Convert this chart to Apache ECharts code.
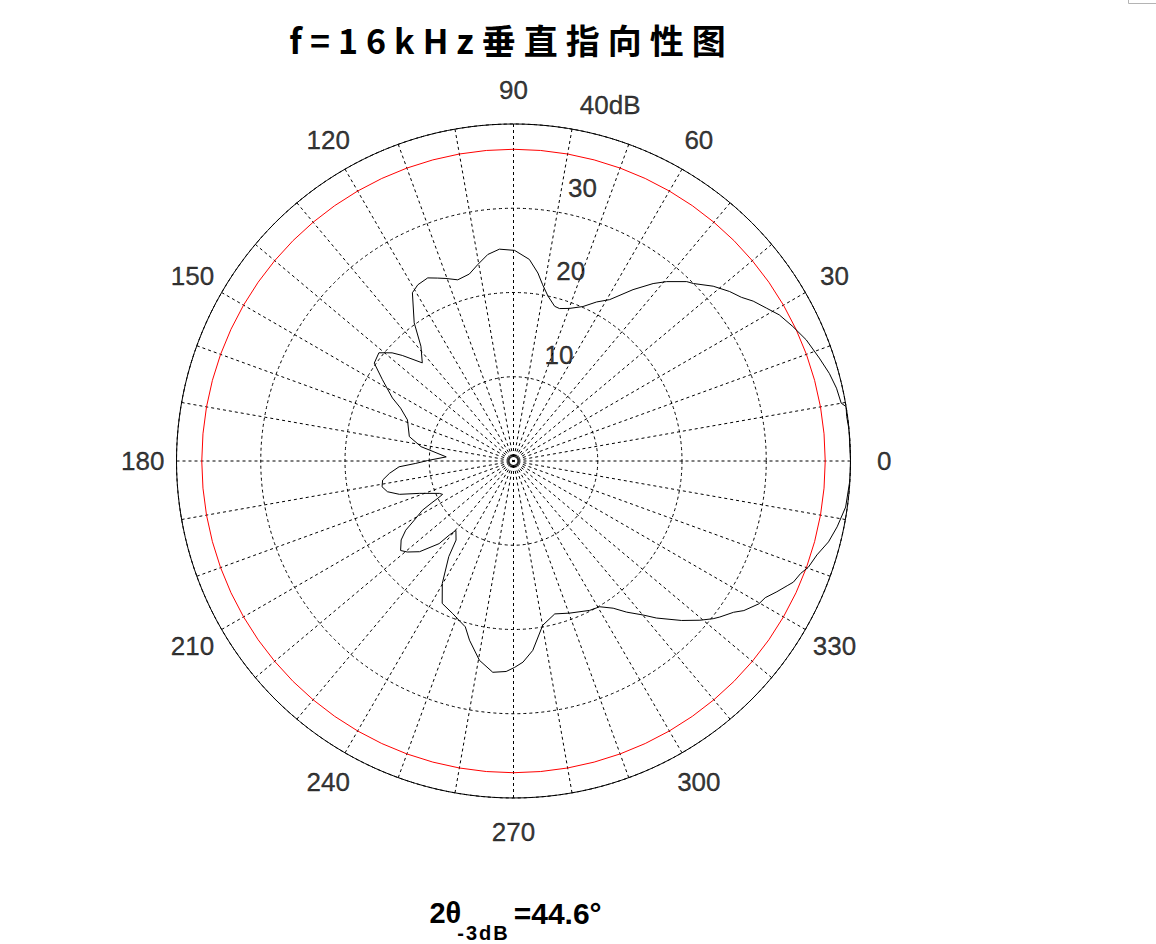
<!DOCTYPE html>
<html>
<head>
<meta charset="utf-8">
<script src="https://cdn.jsdelivr.net/npm/echarts@6/dist/echarts.min.js"></script>
<style>
html, body { margin: 0; padding: 0; background: #fff; }
#main { width: 1156px; height: 944px; }
#main text[style*="CJK"] { letter-spacing: 8px; }
#main text[style*="Arimo"] { letter-spacing: 2px; }
</style>
</head>
<body>
<div id="main"></div>
<script>
// ---- data ----
const titleText = 'f=16kHz垂直指向性图';
const beamWidthText = '{m|2θ}{s|-3dB}{e|=44.6°}';

// measured directivity curve: angle (deg) and level (dB)
const curveAngles = [
  0.2, 5.3, 7.6, 9.3, 10.0, 12.7, 15.5, 18.6, 22.5, 25.7, 28.8, 31.1, 33.7, 35.7, 38.1, 41.2,
  44.6, 46.0, 49.5, 51.8, 55.1, 59.2, 62.4, 65.8, 69.8, 73.2, 75.1, 78.2, 80.6, 82.6, 85.5, 89.7,
  93.8, 97.1, 100.3, 103.3, 107.1, 110.3, 112.5, 115.1, 118.5, 121.0, 125.7, 128.9, 132.9, 136.5,
  138.3, 141.2, 144.9, 148.2, 152.5, 154.9, 158.8, 166.8, 171.2, 172.5, 176.5, 179.7, 181.4, 182.9,
  185.7, 188.3, 191.1, 193.7, 196.3, 199.0, 203.6, 205.2, 206.2, 207.2, 208.4, 210.8, 212.7, 215.1,
  218.4, 220.6, 224.0, 228.0, 229.1, 230.3, 234.0, 235.9, 239.8, 243.4, 248.3, 251.2, 253.8, 256.2,
  260.3, 264.4, 268.0, 270.3, 272.7, 275.8, 280.1, 285.1, 290.3, 297.0, 300.6, 304.1, 306.8, 310.1,
  312.3, 316.5, 319.5, 321.7, 322.9, 325.5, 327.0, 329.8, 331.5, 333.6, 335.5, 336.6, 338.6, 340.2,
  342.8, 345.6, 348.5, 352.1, 356.8, 360.0
];
const curveLevels = [
  40.0, 40.0, 39.9, 40.0, 39.5, 39.3, 38.9, 38.3, 37.6, 36.8, 36.0, 35.1, 34.2, 33.3, 32.6, 31.5,
  30.0, 29.6, 28.0, 26.8, 24.8, 22.3, 21.3, 20.1, 19.3, 18.9, 19.0, 20.0, 21.2, 22.5, 24.0, 25.0,
  25.2, 24.7, 23.7, 22.8, 22.5, 23.1, 23.5, 24.0, 23.8, 23.3, 20.2, 17.5, 15.9, 18.2,
  19.3, 20.5, 20.2, 18.3, 16.2, 14.8, 13.5, 12.7, 11.1, 10.1, 8.0, 10.2, 11.6, 13.6,
  14.8, 15.7, 15.9, 15.4, 14.1, 11.8, 9.6, 9.3, 10.0, 11.0, 12.3, 13.7, 15.2, 16.3,
  17.1, 16.6, 15.5, 13.2, 11.6, 10.7, 11.6, 13.7, 16.8, 18.9, 19.5, 20.0, 20.5, 21.9,
  24.0, 25.2, 25.0, 24.5, 23.9, 22.6, 19.8, 18.8, 19.25, 19.9, 20.1, 21.1, 22.4, 23.9,
  25.2, 27.5, 29.1, 30.2, 30.7, 31.7, 32.6, 33.7, 34.0, 34.9, 35.7, 36.2, 36.6, 37.2,
  37.7, 38.6, 39.2, 39.8, 40.0, 40.0
];

// -3 dB reference level (red circle)
const refLevel = 37;

// tick labels
const angleTickValues = [0, 30, 60, 90, 120, 150, 180, 210, 240, 270, 300, 330];
const angleTickLabels = ['0', '30', '60', '90', '120', '150', '180', '210', '240', '270', '300', '330'];
const ringTickValues = [10, 20, 30, 40];
const ringTickLabels = ['10', '20', '30', '40dB'];

// ---- layout constants ----
const angleLabelRadius = 44;     // in dB units, outside the 40 dB rim
const ringLabelAngle = 82;       // degrees
const ringLabelOffset = 2;       // dB added to the ring value for the label anchor

const refAngles = [];
for (let a = 0; a <= 360; a += 5) refAngles.push(a);

const chart = echarts.init(document.getElementById('main'), null, { renderer: 'svg' });

const dash = [3, 3];
const labelFont = {
  fontFamily: '"Liberation Sans", Arial, sans-serif', fontSize: 26, color: '#000',
  textBorderColor: '#000', textBorderWidth: 0.35
};

chart.setOption({
  animation: false,
  backgroundColor: '#fff',
  title: {
    text: titleText,
    left: 511.5,
    top: 21,
    textAlign: 'center',
    padding: 0,
    textStyle: {
      fontFamily: '"Noto Sans CJK SC", sans-serif',
      fontWeight: 'bold',
      fontSize: 34,
      lineHeight: 36,
      color: '#000'
    }
  },
  polar: { center: [513.5, 461], radius: 337 },
  angleAxis: {
    type: 'value', min: 0, max: 360, interval: 10,
    startAngle: 0, clockwise: false,
    axisLine: { show: true, lineStyle: { color: '#000', width: 1 } },
    axisTick: { show: false },
    axisLabel: { show: false },
    splitLine: { show: true, lineStyle: { color: '#000', width: 1, type: dash } }
  },
  radiusAxis: {
    type: 'value', min: 0, max: 40, interval: 10,
    axisLine: { show: false },
    axisTick: { show: false },
    axisLabel: { show: false },
    splitLine: { show: true, lineStyle: { color: '#000', width: 1, type: dash } }
  },
  series: [
    {
      name: '-3dB',
      type: 'line',
      coordinateSystem: 'polar',
      data: refAngles.map(a => [refLevel, a]),
      symbol: 'none',
      silent: true,
      clip: false,
      lineStyle: { color: '#ff0000', width: 1 },
      z: 3
    },
    {
      name: '指向性',
      type: 'line',
      coordinateSystem: 'polar',
      data: curveAngles.map((a, i) => [curveLevels[i], a]),
      symbol: 'none',
      silent: true,
      clip: false,
      lineStyle: { color: '#000', width: 1 },
      z: 4
    },
    {
      name: 'angleLabels',
      type: 'scatter',
      coordinateSystem: 'polar',
      data: angleTickValues.map((a, i) => ({ value: [angleLabelRadius, a], name: angleTickLabels[i] })),
      symbolSize: 0,
      clip: false,
      silent: true,
      label: {
        show: true, position: 'inside', formatter: p => p.name,
        ...labelFont
      },
      z: 5
    },
    {
      name: 'ringLabels',
      type: 'scatter',
      coordinateSystem: 'polar',
      data: ringTickValues.map((v, i) => ({ value: [v + ringLabelOffset, ringLabelAngle], name: ringTickLabels[i] })),
      symbolSize: 0,
      clip: false,
      silent: true,
      label: {
        show: true, position: 'right', distance: 17, offset: [0, -6], formatter: p => p.name,
        ...labelFont
      },
      z: 5
    }
  ],
  graphic: [
    {
      type: 'text',
      x: 515.5,
      y: 898,
      silent: true,
      style: {
        text: beamWidthText,
        align: 'center',
        verticalAlign: 'top',
        rich: {
          m: { fontFamily: '"Liberation Sans", Arial, sans-serif', fontWeight: 'bold', fontSize: 29, lineHeight: 30, verticalAlign: 'top', fill: '#000' },
          s: { fontFamily: 'Arimo, "Liberation Sans", Arial, sans-serif', fontWeight: 'bold', fontSize: 20, lineHeight: 20, padding: [25, 8, 0, 0], verticalAlign: 'top', fill: '#000' },
          e: { fontFamily: '"Liberation Sans", Arial, sans-serif', fontWeight: 'bold', fontSize: 30, lineHeight: 30, verticalAlign: 'top', fill: '#000' }
        }
      }
    },
    {
      type: 'polyline',
      silent: true,
      shape: { points: [[1128.5, 0], [1128.5, 3.5], [1156, 3.5]] },
      style: { stroke: '#b4b4b4', lineWidth: 1, fill: null }
    }
  ]
});
</script>
</body>
</html>
